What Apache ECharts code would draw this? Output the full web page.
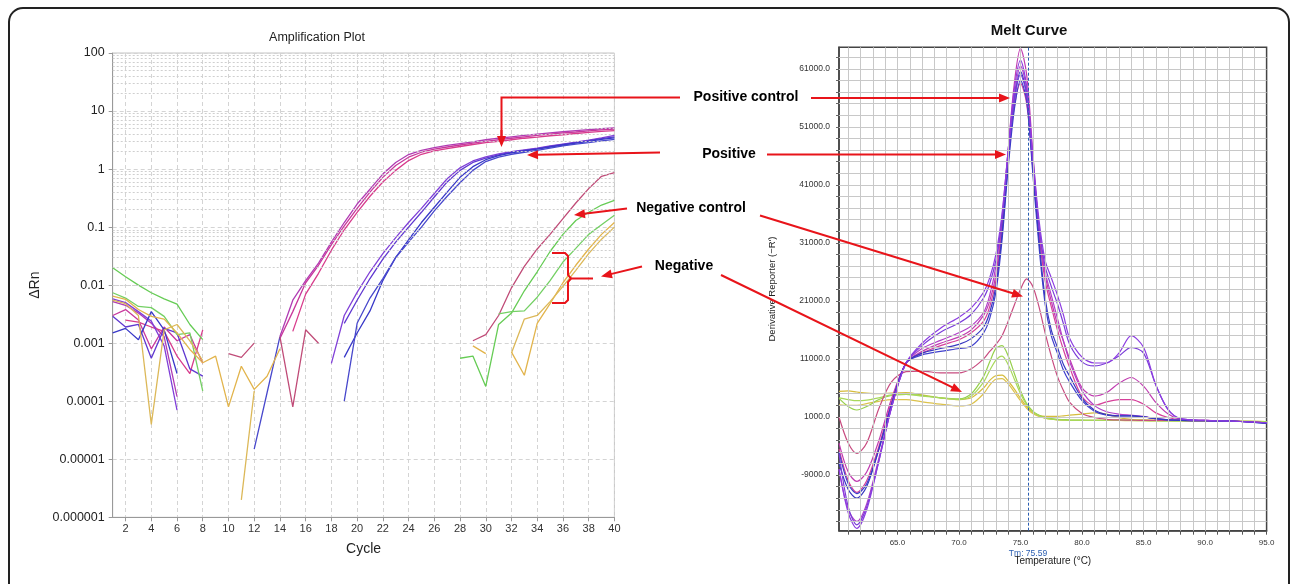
<!DOCTYPE html>
<html><head><meta charset="utf-8">
<script src="https://cdn.jsdelivr.net/npm/echarts@6/dist/echarts.min.js"></script>
<style>html,body{margin:0;padding:0;background:#fff}#c{width:1292px;height:584px}</style>
</head><body><div id="c"></div>
<script>
const N = null;
// ---------- Amplification plot (cycle 1..40) ----------
const cycles = ['1','2','3','4','5','6','7','8','9','10','11','12','13','14','15','16','17','18','19','20','21','22','23','24','25','26','27','28','29','30','31','32','33','34','35','36','37','38','39','40'];
const ampPC1 = [0.0052,0.0045,0.0033,0.0022,0.0013,0.00012,N,N,N,N, N,N,N,0.0013,0.0055,0.012,0.024,0.055,0.12,0.25, 0.45,0.82,1.3,1.78,2.1,2.35,2.55,2.75,2.95,3.2, 3.4,3.6,3.8,4.0,4.2,4.4,4.6,4.8,4.95,5.1];
const ampPC2 = [N,0.0025,0.0023,0.0019,0.0016,0.0006,0.0003,0.0017,N,N, N,N,N,N,0.0016,0.007,0.016,0.04,0.09,0.18, 0.34,0.6,0.95,1.4,1.8,2.05,2.25,2.45,2.65,2.85, 3.0,3.2,3.4,3.55,3.75,3.9,4.1,4.3,4.45,4.6];
const ampPC3 = [0.003,0.0038,0.0025,0.0008,0.0019,0.0011,0.0014,0.00045,N,N, N,N,N,0.0012,0.0035,0.011,0.022,0.05,0.105,0.21, 0.4,0.72,1.15,1.6,1.95,2.2,2.4,2.6,2.8,3.0, 3.2,3.4,3.6,3.8,4.0,4.2,4.35,4.55,4.75,4.9];
const ampPOS1 = [0.0058,0.005,0.0035,0.0024,0.0009,0.00007,N,N,N,N, N,N,N,N,N,N,N,0.00045,0.003,0.0075, 0.017,0.035,0.066,0.12,0.21,0.38,0.68,1.05,1.38,1.62, 1.82,2.0,2.15,2.3,2.5,2.7,2.9,3.15,3.45,3.8];
const ampPOS2 = [0.0029,0.0019,0.0021,0.00055,0.0018,0.0015,0.00036,0.00027,N,N, N,N,N,N,N,N,N,N,0.0022,0.0055, 0.013,0.028,0.055,0.1,0.18,0.33,0.6,0.95,1.3,1.55, 1.76,1.95,2.1,2.25,2.45,2.65,2.85,3.1,3.35,3.6];
const ampPOS3 = [0.0015,0.0018,0.00115,0.0035,0.0017,0.0003,N,N,N,N, N,N,N,N,N,N,N,N,0.00057,0.0015, 0.0036,0.012,0.03,0.06,0.12,0.22,0.4,0.72,1.1,1.45, 1.7,1.9,2.05,2.2,2.4,2.6,2.8,3.0,3.25,3.45];
const ampPOS4 = [N,N,N,N,N,N,N,N,N,N, N,0.000015,0.00014,0.0013,N,N,N,N,0.0001,0.0022, 0.006,0.013,0.03,0.055,0.1,0.19,0.34,0.58,0.95,1.35, 1.6,1.8,1.95,2.1,2.3,2.5,2.7,2.85,3.05,3.25];
const ampNC = [N,N,N,N,N,N,N,N,N,0.00066, 0.00057,0.001,N,0.0013,0.00008,0.0017,0.001,N,N,N, N,N,N,N,N,N,N,N,0.0011,0.0014, 0.003,0.009,0.021,0.042,0.075,0.14,0.26,0.46,0.75,0.87];
const ampG1 = [0.020,0.014,0.010,0.0074,0.0058,0.0047,0.0021,0.00115,N,N, N,N,N,N,N,N,N,N,N,N, N,N,N,N,N,N,N,0.00055,0.0006,0.00018, 0.0021,0.0033,0.008,0.017,0.038,0.075,0.13,0.18,0.24,0.29];
const ampG2 = [0.0074,0.006,0.0043,0.0041,0.0029,0.0014,0.0015,0.00015,N,N, N,N,N,N,N,N,N,N,N,N, N,N,N,N,N,N,N,N,N,N, 0.0032,0.0035,0.0036,0.0062,0.012,0.025,0.043,0.075,0.11,0.16];
const ampY1 = [0.0065,0.0057,0.0038,0.0029,0.0026,0.0015,0.00078,0.00046,0.0006,0.00008, 0.0004,0.00016,0.00027,0.0008,N,N,N,N,N,N, N,N,N,N,N,N,N,N,0.0009,0.00066, N,0.0007,0.00028,0.0022,0.0048,0.011,0.022,0.042,0.075,0.12];
const ampY2 = [0.0055,0.0048,0.003,0.00004,0.0017,0.0021,0.0011,0.0005,N,N, 0.000002,0.00015,N,N,N,N,N,N,N,N, N,N,N,N,N,N,N,N,N,N, N,0.00068,0.0026,0.003,0.0052,0.0095,0.018,0.035,0.062,0.10];

// ---------- Melt curve ----------
const meltTemps = [60.25,61,61.7,62.5,63.5,64.5,65.7,67,68.5,70,71,72,72.5,73,73.5,74,74.5,75,75.5,76,76.5,77,77.5,78,78.5,79,80,81,82,83,84,85,86,87,88,90,92,95];
const meltPOS1 = [-8000,-15500,-18200,-15000,-6500,2500,10300,13700,16300,18200,19800,22500,25000,29000,36000,47000,57500,62500,58000,46000,35000,28000,25000,22000,18500,14500,11300,10300,10300,12000,15000,13000,6500,2300,700,400,300,0];
const meltPOS2 = [-5300,-14500,-17600,-14500,-6500,2500,10300,13300,15600,17200,18700,21500,24000,28000,35000,46000,55500,60000,56500,45000,34000,27000,23500,20500,17000,13500,10500,9800,10300,11500,13000,12000,6500,2200,700,400,300,0];
const meltPC1 = [-3500,-8500,-10100,-8500,-3000,4000,10300,12300,13700,14800,16000,18500,21000,25500,34500,47000,58500,64500,60000,46500,33500,25500,21000,17000,14000,11000,6000,4600,5200,6800,7800,6300,3500,1500,600,400,300,0];
const meltPC2 = [-4500,-10000,-12000,-10000,-4000,3500,10300,12000,13300,14300,15500,17500,20000,24500,33500,45500,54500,58500,55000,44000,32500,24500,20000,16000,12500,9500,4500,3000,3600,4000,4000,3200,1700,900,500,400,300,0];
const meltPC3 = [-8000,-15000,-17000,-14000,-6000,2500,10300,12800,14200,15500,16700,19000,22000,27000,35500,47000,56500,61500,57500,45500,33500,26000,22000,18000,14000,10500,5500,3000,1900,1500,1300,1100,700,500,400,350,300,0];
const meltPOS3 = [-7000,-11500,-13000,-11000,-4500,3000,10300,12000,12800,13500,14500,16500,19000,23500,32500,45000,55500,60500,56500,44000,31500,21500,16000,13000,10000,8000,4200,2200,1400,1200,1200,1000,700,500,400,350,300,-100];
const meltPOS4 = [-5000,-10500,-12200,-10500,-4500,3000,10300,11700,12300,12800,13200,15500,18000,22500,31500,44000,54000,59000,55500,43000,30500,20500,15000,12000,9000,7000,3800,2000,1300,1200,1200,1000,700,500,400,350,300,-100];
const meltNC = [1000,-3500,-5300,-3500,2500,7000,8800,8900,8600,8600,9300,11000,12300,13500,15000,17500,20300,23000,24800,23500,20000,15500,11500,8000,5500,3500,1600,900,600,500,450,400,400,400,400,350,300,0];
const meltG1 = [4200,2800,2200,2800,4000,4700,4900,4700,4300,4100,5000,8000,10500,12800,13300,11500,8500,5500,3300,2000,1300,900,700,600,550,500,450,400,400,400,400,400,350,350,300,300,250,200];
const meltG2 = [4300,4000,3800,3900,4300,4800,4900,4600,4300,4000,4600,7000,9000,10800,11500,10000,7500,5000,3100,1900,1200,800,600,500,450,400,400,400,400,400,400,350,350,300,300,300,250,200];
const meltY1 = [5400,5500,5300,5100,5000,5100,5200,4800,4300,4000,4300,6000,7300,8100,8200,7200,5800,4200,2800,1800,1300,1100,1100,1100,1200,1300,1500,1700,1500,900,600,500,450,400,400,350,300,200];
const meltY2 = [3100,3000,3000,3300,3700,4000,4000,3600,3200,2900,3200,5000,6500,7500,7600,6700,5300,3800,2500,1600,1100,800,600,500,450,400,400,400,400,400,350,350,300,300,300,250,250,200];
const tmValue = 75.59;

// tick labels
const ampYTicks = [0.000001,0.00001,0.0001,0.001,0.01,0.1,1,10,100];
const meltXTicks = [65,70,75,80,85,90,95];
const meltYTicks = [-9000,1000,11000,21000,31000,41000,51000,61000];

const FONT = 'Liberation Sans, Arial, sans-serif';
const RED = '#e8141a';

// grid helper values (derived from axis structure only)
const ampMinor = [];
ampYTicks.slice(0,-1).forEach(d => { for (let k=2;k<=9;k++) ampMinor.push(+(d*k).toPrecision(3)); });
const meltVGrid = []; for (let t=61;t<=94;t++) meltVGrid.push(t);
const meltHGrid = []; for (let v=-17000; v<=63000; v+=2000) meltHGrid.push(v);

function fmtLog(v){ if (v >= 1) return String(Math.round(v)); const d = Math.round(-Math.log10(v)); return v.toFixed(d); }

const ampSeries = [
  ['PC1', '#b03cb4', ampPC1], ['PC2', '#d83c8c', ampPC2], ['PC3', '#c8389c', ampPC3],
  ['POS1', '#8040d8', ampPOS1], ['POS2', '#6038d0', ampPOS2], ['POS3', '#3838c8', ampPOS3], ['POS4', '#4848cc', ampPOS4],
  ['NC', '#c04c78', ampNC], ['G1', '#66cc55', ampG1], ['G2', '#74d064', ampG2], ['Y1', '#e2b44c', ampY1], ['Y2', '#dcb858', ampY2]
];
const meltSeries = [
  ['Y1', '#d6bc3c', meltY1], ['Y2', '#dcc24c', meltY2], ['G1', '#96d04c', meltG1], ['G2', '#a8d85a', meltG2],
  ['NC', '#c84c80', meltNC], ['PC2', '#d6409a', meltPC2], ['PC1', '#c03cb0', meltPC1], ['PC3', '#b040c8', meltPC3],
  ['POS4', '#4040cc', meltPOS4], ['POS3', '#3838c0', meltPOS3], ['POS2', '#7a3cd8', meltPOS2], ['POS1', '#8c3ce0', meltPOS1]
];

const series = [];
series.push({ type:'line', xAxisIndex:0, yAxisIndex:0, data: cycles.map(()=>null), z:1, silent:true, showSymbol:false,
  markLine:{ silent:true, symbol:'none', label:{show:false}, animation:false,
    lineStyle:{ color:'#cfcfcf', type:[2,2], width:1 }, data: ampMinor.map(v=>({yAxis:v})) } });
ampSeries.forEach(([name,color,data]) => series.push({
  name, type:'line', xAxisIndex:0, yAxisIndex:0, data, showSymbol:false, connectNulls:false,
  lineStyle:{ color, width:1.3 }, itemStyle:{color}, z:3, silent:true
}));
series.push({ type:'line', xAxisIndex:1, yAxisIndex:1, data: [], z:1, silent:true, showSymbol:false,
  markLine:{ silent:true, symbol:'none', label:{show:false}, animation:false,
    lineStyle:{ color:'#c8c8c8', type:'solid', width:1 },
    data: meltVGrid.map(t=>({xAxis:t})).concat(meltHGrid.map(v=>({yAxis:v}))) } });
meltSeries.forEach(([name,color,vals]) => series.push({
  name, type:'line', xAxisIndex:1, yAxisIndex:1, data: meltTemps.map((t,i)=>[t, vals[i]]),
  showSymbol:false, smooth:0.3, lineStyle:{ color, width:1.2 }, itemStyle:{color}, z:3, silent:true
}));
series.push({ type:'line', xAxisIndex:1, yAxisIndex:1, data: [], z:4, silent:true,
  markLine:{ silent:true, symbol:'none', label:{show:false}, animation:false,
    lineStyle:{ color:'#2a5db0', type:[3,2], width:1 }, data:[{xAxis: tmValue}] } });

function arrow(x1,y1,x2,y2){
  const dx=x2-x1, dy=y2-y1, L=Math.hypot(dx,dy), ux=dx/L, uy=dy/L, hl=11, hw=4.5;
  const bx=x2-ux*hl, by=y2-uy*hl;
  return [
    { type:'line', z:100, shape:{x1,y1,x2:bx+ux*1,y2:by+uy*1}, style:{stroke:RED, lineWidth:2} },
    { type:'polygon', z:100, shape:{points:[[x2,y2],[bx-uy*hw,by+ux*hw],[bx+uy*hw,by-ux*hw]]}, style:{fill:RED} }
  ];
}
function label(text,x,y,font,fill){ return { type:'text', z:100, x, y, style:{ text, font, fill: fill||'#000', align:'center', verticalAlign:'middle' } }; }

const graphics = [
  { type:'rect', z:100, shape:{x:9,y:8,width:1280,height:640,r:14}, style:{fill:'none', stroke:'#222', lineWidth:2} },
  label('Amplification Plot', 317, 38, '12.5px '+FONT, '#222'),
  label('Melt Curve', 1029, 31, 'bold 15px '+FONT, '#111'),
  label('Tm: 75.59', 1028, 554, '8.5px '+FONT, '#2a5db0'),
  label('Positive control', 746, 97.5, 'bold 14px '+FONT),
  label('Positive', 729, 154, 'bold 14px '+FONT),
  label('Negative control', 691, 208.5, 'bold 14px '+FONT),
  label('Negative', 684, 266, 'bold 14px '+FONT),
  { type:'polyline', z:100, shape:{points:[[680,97.5],[501.5,97.5],[501.5,138]]}, style:{stroke:RED, lineWidth:2, fill:'none'} },
  ...arrow(501.5,130,501.5,147),
  ...arrow(811,98,1010,98),
  ...arrow(660,152.5,527,155),
  ...arrow(767,154.5,1006,154.5),
  ...arrow(627,208.5,574,215),
  ...arrow(760,215.5,1023,296.5),
  ...arrow(642,266.5,601,276.5),
  ...arrow(721,275,962,392),
  { type:'polyline', z:100, shape:{points:[[552,253],[565,253],[568,256],[568,275],[571,278.5],[568,282],[568,300],[565,303],[552,303]]}, style:{stroke:RED, lineWidth:2, fill:'none'} },
  { type:'line', z:100, shape:{x1:571,y1:278.5,x2:593,y2:278.5}, style:{stroke:RED, lineWidth:2} }
];

const option = {
  animation:false,
  backgroundColor:'#fff',
  textStyle:{ fontFamily: FONT },
  grid:[
    { left:112.7, right:677.6, top:53, bottom:66.7, show:true, borderColor:'#c4c4c4', borderWidth:1, backgroundColor:'transparent' },
    { left:839, right:25.4, top:47.3, bottom:53.3, show:true, borderColor:'#444', borderWidth:1.5, backgroundColor:'transparent' }
  ],
  xAxis:[
    { gridIndex:0, type:'category', data:cycles, boundaryGap:false,
      name:'Cycle', nameLocation:'middle', nameGap:25, nameTextStyle:{ fontSize:14, color:'#222', fontFamily:FONT },
      axisLine:{ lineStyle:{ color:'#999' } },
      axisTick:{ interval:(i)=> i%2===1, length:4, lineStyle:{color:'#999'} },
      axisLabel:{ interval:(i)=> i%2===1, fontSize:11, color:'#333', margin:6, fontFamily:FONT },
      splitLine:{ show:true, interval:(i)=> i%2===1, lineStyle:{ color:'#d4d4d4', type:[4,3] } } },
    { gridIndex:1, type:'value', min:60.25, max:95,
      name:'Temperature (°C)', nameLocation:'middle', nameGap:26, nameTextStyle:{ fontSize:10, color:'#222', fontFamily:FONT },
      axisLine:{ onZero:false, lineStyle:{ color:'#444', width:1.5 } },
      axisTick:{ show:true, customValues: meltVGrid.concat([95]), length:4, lineStyle:{color:'#555'} },
      axisLabel:{ customValues: meltXTicks, formatter:(v)=>Number(v).toFixed(1), fontSize:8, color:'#333', margin:8, fontFamily:FONT },
      splitLine:{ show:false } }
  ],
  yAxis:[
    { gridIndex:0, type:'log', logBase:10, min:0.000001, max:100, splitNumber:8,
      name:'ΔRn', nameLocation:'middle', nameGap:71, nameTextStyle:{ fontSize:14, color:'#222', fontFamily:FONT },
      axisLine:{ show:true, lineStyle:{ color:'#999' } },
      axisTick:{ show:true, length:4, lineStyle:{color:'#999'} },
      axisLabel:{ formatter: fmtLog, fontSize:12.5, color:'#222', margin:8, fontFamily:FONT },
      splitLine:{ show:true, lineStyle:{ color:'#d4d4d4', type:[4,3] } } },
    { gridIndex:1, type:'value', min:-18600, max:64700,
      name:"Derivative Reporter (−R')", nameLocation:'middle', nameGap:62, nameTextStyle:{ fontSize:9.5, color:'#222', fontFamily:FONT },
      axisLine:{ show:true, onZero:false, lineStyle:{ color:'#444', width:1.5 } },
      axisTick:{ show:true, customValues: meltHGrid, length:3, lineStyle:{color:'#666'} },
      axisLabel:{ customValues: meltYTicks, formatter:(v)=>Number(v).toFixed(1), fontSize:8.5, color:'#333', margin:9, fontFamily:FONT },
      splitLine:{ show:false } }
  ],
  series,
  graphic: graphics
};
const chart = echarts.init(document.getElementById('c'), null, { renderer:'canvas' });
chart.setOption(option);
</script>
</body></html>
